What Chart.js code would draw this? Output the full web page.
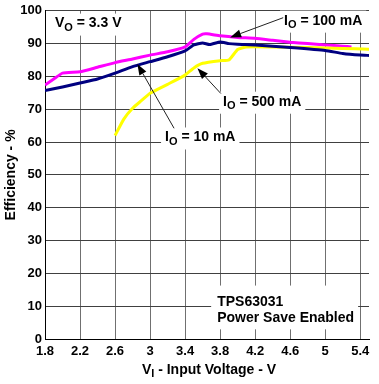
<!DOCTYPE html>
<html>
<head>
<meta charset="utf-8">
<script src="https://cdn.jsdelivr.net/npm/chart.js@4.4.1/dist/chart.umd.min.js"></script>
<style>
  html, body { margin: 0; padding: 0; background: #fff; }
  #wrap { width: 379px; height: 384px; }
</style>
</head>
<body>
<div id="wrap"><canvas id="c" width="379" height="384"></canvas></div>
<script>
// ---- Data ----
const xTickValues = [1.8, 2.2, 2.6, 3.0, 3.4, 3.8, 4.2, 4.6, 5.0, 5.4];
const xTickLabels = ['1.8', '2.2', '2.6', '3', '3.4', '3.8', '4.2', '4.6', '5', '5.4'];
const yTickValues = [0, 10, 20, 30, 40, 50, 60, 70, 80, 90, 100];

const v10mA   = [1.8, 2.0, 2.2, 2.4, 2.6, 2.8, 3.0, 3.2, 3.4, 3.5, 3.6, 3.68, 3.8, 3.9, 4.0, 4.2, 4.6, 5.0, 5.2, 5.4, 5.5];
const eff10mA = [75.7, 76.8, 78.0, 79.2, 81.0, 83.0, 84.5, 86.0, 87.8, 89.6, 90.2, 89.7, 90.5, 90.0, 89.8, 89.6, 88.8, 87.9, 87.0, 86.5, 86.4];

const v100mA   = [1.8, 1.9, 2.0, 2.2, 2.4, 2.6, 2.8, 3.0, 3.2, 3.4, 3.5, 3.6, 3.65, 3.8, 4.0, 4.2, 4.4, 4.6, 4.8, 5.0, 5.2, 5.3];
const eff100mA = [77.4, 79.2, 81.0, 81.4, 82.8, 84.2, 85.3, 86.5, 87.5, 89.0, 91.3, 92.9, 93.0, 92.4, 91.9, 91.6, 91.0, 90.4, 90.0, 89.6, 89.2, 89.0];

const v500mA   = [2.6, 2.7, 2.8, 2.9, 3.0, 3.2, 3.4, 3.5, 3.6, 3.8, 3.9, 4.0, 4.1, 4.4, 4.8, 5.2, 5.5];
const eff500mA = [62.0, 67.0, 70.3, 72.6, 74.9, 77.6, 80.4, 82.6, 84.0, 84.8, 85.0, 88.2, 89.0, 89.0, 88.8, 88.5, 88.3];

const seriesNames = ['IO = 10 mA', 'IO = 500 mA', 'IO = 100 mA'];

// ---- Annotation placement (data coordinates) ----
const FONT = "'Liberation Sans', Arial, Helvetica, sans-serif";
const labels = [
  { main: 'V', sub: 'O', rest: ' = 3.3 V', x: 1.914, y: 96.1 },
  { main: 'I', sub: 'O', rest: ' = 100 mA', x: 4.53, y: 97.0 },
  { main: 'I', sub: 'O', rest: ' = 500 mA', x: 3.834, y: 72.3 },
  { main: 'I', sub: 'O', rest: ' = 10 mA', x: 3.171, y: 61.4 }
];
const arrows = [
  { x1: 4.52, y1: 97.9, x2: 3.914, y2: 91.9 },
  { x1: 3.808, y1: 74.8, x2: 3.541, y2: 82.5 },
  { x1: 3.274, y1: 64.2, x2: 2.855, y2: 83.8 }
];
const noteLines = ['TPS63031', 'Power Save Enabled'];
const note = { x: 3.766, y1: 11.1, y2: 6.3 };

function toXY(v, e) { return v.map((x, i) => ({ x: x, y: e[i] })); }

const annotPlugin = {
  id: 'annot',
  afterDatasetsDraw(chart) {
    const ctx = chart.ctx;
    const sx = chart.scales.x, sy = chart.scales.y;
    ctx.save();
    // labels with white background
    labels.forEach(l => {
      const px = sx.getPixelForValue(l.x), py = sy.getPixelForValue(l.y);
      ctx.font = 'bold 14px ' + FONT;
      const w1 = ctx.measureText(l.main).width;
      const w3 = ctx.measureText(l.rest).width;
      ctx.font = 'bold 11px ' + FONT;
      const w2 = ctx.measureText(l.sub).width;
      const tw = w1 + w2 + w3;
      ctx.fillStyle = '#fff';
      ctx.fillRect(px - 4, py - 10, tw + 8, 22);
      ctx.fillStyle = '#000';
      ctx.textBaseline = 'middle';
      ctx.textAlign = 'left';
      ctx.font = 'bold 14px ' + FONT;
      ctx.fillText(l.main, px, py);
      ctx.font = 'bold 11px ' + FONT;
      ctx.fillText(l.sub, px + w1, py + 4);
      ctx.font = 'bold 14px ' + FONT;
      ctx.fillText(l.rest, px + w1 + w2, py);
    });
    // note box
    {
      const px = sx.getPixelForValue(note.x);
      const p1 = sy.getPixelForValue(note.y1), p2 = sy.getPixelForValue(note.y2);
      ctx.font = 'bold 14px ' + FONT;
      const tw = Math.max(...noteLines.map(t => ctx.measureText(t).width));
      ctx.fillStyle = '#fff';
      ctx.fillRect(px - 6, p1 - 17, tw + 10, (p2 - p1) + 28);
      ctx.fillStyle = '#000';
      ctx.textBaseline = 'middle';
      ctx.textAlign = 'left';
      ctx.fillText(noteLines[0], px, p1);
      ctx.fillText(noteLines[1], px, p2);
    }
    // arrows
    arrows.forEach(a => {
      const x1 = sx.getPixelForValue(a.x1), y1 = sy.getPixelForValue(a.y1);
      const x2 = sx.getPixelForValue(a.x2), y2 = sy.getPixelForValue(a.y2);
      const ang = Math.atan2(y2 - y1, x2 - x1);
      const L = 11, W = 4;
      const bx = x2 - L * Math.cos(ang), by = y2 - L * Math.sin(ang);
      ctx.strokeStyle = '#222';
      ctx.lineWidth = 1;
      ctx.beginPath();
      ctx.moveTo(x1, y1);
      ctx.lineTo(bx, by);
      ctx.stroke();
      ctx.fillStyle = '#000';
      ctx.beginPath();
      ctx.moveTo(x2, y2);
      ctx.lineTo(bx + W * Math.sin(ang), by - W * Math.cos(ang));
      ctx.lineTo(bx - W * Math.sin(ang), by + W * Math.cos(ang));
      ctx.closePath();
      ctx.fill();
    });
    ctx.restore();
  },
  afterDraw(chart) {
    const ctx = chart.ctx;
    const area = chart.chartArea;
    ctx.save();
    ctx.fillStyle = '#000';
    // y title
    ctx.font = 'bold 14px ' + FONT;
    ctx.translate(11, (area.top + area.bottom) / 2);
    ctx.rotate(-Math.PI / 2);
    ctx.textAlign = 'center';
    ctx.textBaseline = 'middle';
    ctx.fillText('Efficiency - %', 0, 0);
    ctx.restore();
    // x title with subscript
    ctx.save();
    ctx.fillStyle = '#000';
    ctx.textBaseline = 'middle';
    ctx.textAlign = 'left';
    const main = 'V', sub = 'I', rest = ' - Input Voltage - V';
    ctx.font = 'bold 14px ' + FONT;
    const w1 = ctx.measureText(main).width, w3 = ctx.measureText(rest).width;
    ctx.font = 'bold 11px ' + FONT;
    const w2 = ctx.measureText(sub).width;
    const total = w1 + w2 + w3;
    const cx = (area.left + area.right) / 2 + 2;
    const y = 370;
    let x = cx - total / 2;
    ctx.font = 'bold 14px ' + FONT;
    ctx.fillText(main, x, y);
    ctx.font = 'bold 11px ' + FONT;
    ctx.fillText(sub, x + w1, y + 4);
    ctx.font = 'bold 14px ' + FONT;
    ctx.fillText(rest, x + w1 + w2, y);
    ctx.restore();
  }
};

new Chart(document.getElementById('c'), {
  type: 'line',
  data: {
    datasets: [
      { label: seriesNames[0], data: toXY(v10mA, eff10mA), borderColor: '#000080', borderWidth: 3, pointRadius: 0, tension: 0.15, fill: false },
      { label: seriesNames[1], data: toXY(v500mA, eff500mA), borderColor: '#FFFF00', borderWidth: 3, pointRadius: 0, tension: 0.15, fill: false },
      { label: seriesNames[2], data: toXY(v100mA, eff100mA), borderColor: '#FF00FF', borderWidth: 3, pointRadius: 0, tension: 0.15, fill: false }
    ]
  },
  options: {
    responsive: false,
    devicePixelRatio: 1,
    animation: false,
    layout: { padding: { top: 7, right: 10, left: 0, bottom: 0 } },
    plugins: { legend: { display: false }, tooltip: { enabled: false } },
    scales: {
      x: {
        type: 'linear',
        min: 1.8,
        max: 5.5,
        afterBuildTicks(scale) { scale.ticks = xTickValues.map(v => ({ value: v })); },
        afterFit(scale) { scale.height = 45; },
        grid: { color: '#707070', lineWidth: 1, drawTicks: false },
        border: { color: '#000', width: 1 },
        ticks: {
          padding: 5,
          color: '#000',
          font: { family: FONT, size: 13, weight: 'bold' },
          maxRotation: 0,
          autoSkip: false,
          callback(v) {
            const i = xTickValues.findIndex(t => Math.abs(t - v) < 1e-6);
            return i >= 0 ? xTickLabels[i] : '';
          }
        }
      },
      y: {
        type: 'linear',
        min: 0,
        max: 100,
        afterBuildTicks(scale) { scale.ticks = yTickValues.map(v => ({ value: v })); },
        afterFit(scale) { scale.width = 45; },
        grid: { color: '#404040', lineWidth: 1, drawTicks: false },
        border: { color: '#000', width: 1 },
        ticks: {
          padding: 3,
          color: '#000',
          font: { family: FONT, size: 13, weight: 'bold' },
          autoSkip: false
        }
      }
    }
  },
  plugins: [annotPlugin]
});
</script>
</body>
</html>
